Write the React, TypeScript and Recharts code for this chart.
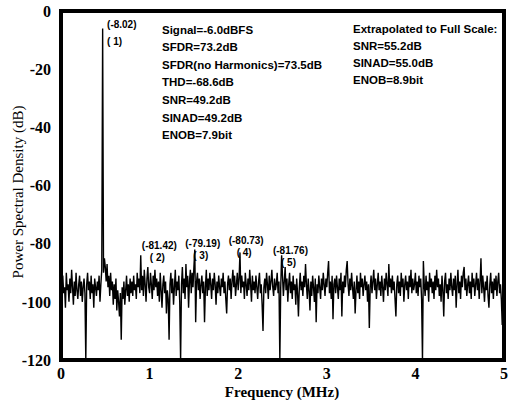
import React from 'react';
import { LineChart, Line, XAxis, YAxis, ReferenceDot } from 'recharts';

// Power spectral density (dB), one value per 0.01 MHz bin from 0.00 to 5.00 MHz
const psd: number[] = [
  -93, -99, -91, -97, -95, -102, -90, -96, -94, -100,
  -92, -97, -89, -95, -101, -93, -98, -90, -96, -99,
  -94, -91, -98, -93, -100, -95, -92, -97, -120, -94,
  -90, -96, -93, -99, -91, -97, -94, -102, -92, -95,
  -98, -93, -96, -91, -100, -94, -89, -6, -90, -85,
  -88, -93, -87, -95, -91, -98, -90, -96, -93, -101,
  -94, -99, -92, -103, -96, -100, -105, -97, -113, -95,
  -99, -93, -101, -96, -91, -98, -94, -100, -92, -97,
  -93, -98, -91, -96, -94, -99, -90, -95, -92, -97,
  -84, -96, -91, -98, -89, -94, -100, -92, -88, -95,
  -97, -90, -94, -99, -91, -96, -89, -95, -92, -98,
  -93, -100, -90, -96, -102, -94, -91, -97, -93, -104,
  -96, -99, -113, -94, -90, -97, -92, -101, -95, -89,
  -98, -93, -96, -91, -100, -120, -94, -88, -97, -92,
  -99, -87, -95, -91, -102, -93, -89, -97, -90, -95,
  -88, -82, -107, -93, -90, -96, -92, -99, -94, -91,
  -97, -93, -107, -95, -89, -98, -92, -96, -90, -94,
  -99, -92, -96, -90, -94, -101, -93, -97, -91, -95,
  -98, -92, -95, -90, -97, -93, -99, -104, -94, -91,
  -96, -92, -99, -93, -89, -95, -91, -98, -94, -90,
  -96, -92, -83, -97, -91, -95, -93, -99, -90, -94,
  -98, -92, -96, -89, -94, -100, -91, -96, -93, -97,
  -91, -95, -99, -93, -90, -97, -94, -101, -110, -95,
  -92, -97, -90, -94, -99, -91, -96, -93, -89, -95,
  -98, -92, -96, -94, -90, -97, -93, -120, -95, -84,
  -91, -98, -93, -88, -96, -92, -100, -94, -90, -97,
  -93, -99, -91, -96, -94, -101, -92, -97, -105, -95,
  -90, -96, -93, -98, -91, -95, -87, -94, -99, -92,
  -96, -103, -93, -98, -91, -95, -100, -92, -107, -94,
  -97, -91, -95, -99, -92, -96, -90, -94, -98, -92,
  -95, -90, -86, -97, -93, -99, -91, -106, -94, -92,
  -97, -91, -95, -99, -92, -96, -90, -105, -93, -97,
  -91, -95, -89, -86, -94, -98, -92, -96, -90, -95,
  -99, -93, -104, -96, -91, -97, -93, -99, -90, -95,
  -92, -98, -94, -91, -96, -93, -100, -94, -109, -95,
  -91, -97, -93, -89, -96, -92, -99, -94, -90, -96,
  -93, -98, -91, -95, -100, -92, -96, -90, -94, -98,
  -87, -95, -92, -97, -91, -96, -93, -99, -105, -94,
  -91, -97, -93, -98, -90, -95, -92, -100, -94, -91,
  -96, -93, -99, -91, -95, -89, -97, -92, -96, -94,
  -90, -97, -93, -98, -91, -95, -92, -99, -120, -86,
  -94, -98, -91, -96, -93, -100, -90, -95, -92, -97,
  -93, -99, -91, -96, -89, -95, -92, -98, -94, -100,
  -91, -96, -105, -93, -90, -97, -94, -99, -92, -96,
  -90, -95, -98, -92, -96, -91, -102, -94, -89, -97,
  -93, -99, -91, -95, -90, -88, -96, -92, -98, -94,
  -91, -97, -93, -99, -90, -95, -92, -98, -94, -90,
  -96, -92, -99, -93, -85, -97, -91, -95, -100, -93,
  -96, -91, -98, -102, -94, -90, -97, -93, -99, -92,
  -96, -91, -98, -93, -90, -97, -94, -99, -108, -95,
  -113,
];
const binStep = 0.01;

const xTicks = [0, 1, 2, 3, 4, 5];
const yTicks = [-120, -100, -80, -60, -40, -20, 0];
const xDomain = [0, 5];
const yDomain = [-120, 0];

const statsLeft = [
  'Signal=-6.0dBFS',
  'SFDR=73.2dB',
  'SFDR(no Harmonics)=73.5dB',
  'THD=-68.6dB',
  'SNR=49.2dB',
  'SINAD=49.2dB',
  'ENOB=7.9bit',
];
const statsRight = [
  'Extrapolated to Full Scale:',
  'SNR=55.2dB',
  'SINAD=55.0dB',
  'ENOB=8.9bit',
];

// harmonic annotations: text anchor in data coordinates
const harmonicLabels = [
  { n: 1, value: '(-8.02)', f: 0.52, db: -4.5, anchor: 'start' },
  { n: 2, value: '(-81.42)', f: 1.11, db: -80.5, anchor: 'middle' },
  { n: 3, value: '(-79.19)', f: 1.6, db: -79.8, anchor: 'middle' },
  { n: 4, value: '(-80.73)', f: 2.09, db: -78.9, anchor: 'middle' },
  { n: 5, value: '(-81.76)', f: 2.59, db: -82.4, anchor: 'middle' },
];

const data = psd.map((v, i) => ({ f: Math.round(i * binStep * 100) / 100, db: v }));

const serif = '"Liberation Serif", "DejaVu Serif", serif';
const sans = '"Liberation Sans", Arial, sans-serif';
const tickFont = { fill: '#000', fontFamily: serif, fontWeight: 'bold', fontSize: 16 };

const W = 509;
const H = 400;
const M = { top: 11, right: 5, bottom: 40, left: 61 };

export default function App() {
  return (
    <div style={{ position: 'absolute', left: 0, top: 0, background: '#fff' }}>
      <LineChart width={W} height={H} data={data} margin={{ top: M.top, right: M.right, bottom: 0, left: 0 }}>
        <rect
          x={M.left}
          y={M.top}
          width={W - M.left - M.right}
          height={H - M.top - M.bottom}
          fill="none"
          stroke="#000000"
          strokeWidth={4}
        />
        <XAxis
          dataKey="f"
          type="number"
          domain={xDomain}
          ticks={xTicks}
          interval={0}
          axisLine={{ stroke: '#000000', strokeWidth: 4 }}
          tickLine={false}
          tickMargin={2}
          tick={tickFont}
          height={M.bottom}
        />
        <YAxis
          type="number"
          domain={yDomain}
          ticks={yTicks}
          interval={0}
          width={M.left}
          axisLine={{ stroke: '#000000', strokeWidth: 4 }}
          tickLine={false}
          tickMargin={4}
          tick={tickFont}
        />
        <Line
          type="linear"
          dataKey="db"
          stroke="#000"
          strokeWidth={1.4}
          dot={false}
          isAnimationActive={false}
        />
        {harmonicLabels.map((h) => (
          <ReferenceDot
            key={h.n}
            x={h.f}
            y={h.db}
            r={0}
            label={{
              content: (p: any) => {
                const vb = p.viewBox || {};
                const x = vb.x ?? 0;
                const y = vb.y ?? 0;
                return (
                  <g>
                    <text x={x} y={y + 3.5} textAnchor={h.anchor as any} fontFamily={sans} fontWeight="bold" fontSize={10} fill="#000">
                      {h.value}
                    </text>
                    <text x={h.n === 1 ? x : x - 2} y={y + (h.n === 1 ? 20.5 : 15.5)} textAnchor={h.anchor as any} fontFamily={sans} fontWeight="bold" fontSize={10} fill="#000">
                      {`( ${h.n})`}
                    </text>
                  </g>
                );
              },
            }}
          />
        ))}
        {statsLeft.map((s, i) => (
          <text key={s} x={162} y={33.5 + i * 17.6} fontFamily={sans} fontWeight="bold" fontSize={11.5} fill="#000">
            {s}
          </text>
        ))}
        {statsRight.map((s, i) => (
          <text key={s} x={353} y={33 + i * 17} fontFamily={sans} fontWeight="bold" fontSize={11.5} fill="#000">
            {s}
          </text>
        ))}
        <g transform="translate(23, 192) rotate(-90)">
          <text x={0} y={0} textAnchor="middle" fontFamily={serif} fontSize={15} fill="#000">
            Power Spectral Density (dB)
          </text>
        </g>
        <text x={282} y={397} textAnchor="middle" fontFamily={serif} fontWeight="bold" fontSize={15} fill="#000">
          Frequency (MHz)
        </text>
      </LineChart>
    </div>
  );
}
